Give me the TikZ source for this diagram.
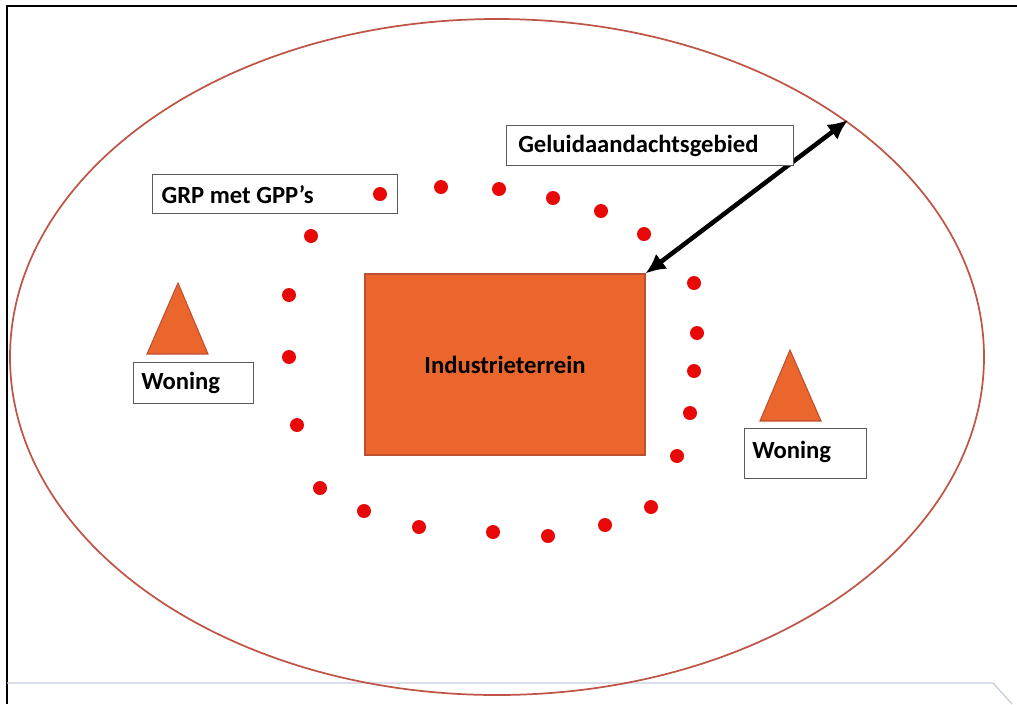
\documentclass[tikz,border=0pt]{standalone}
\usepackage{fontspec}
\setmainfont{Carlito}
\usetikzlibrary{arrows.meta}
\definecolor{ellc}{RGB}{190,85,70}
\definecolor{orangefill}{RGB}{234,102,45}
\definecolor{orangeedge}{RGB}{190,80,50}
\definecolor{dotred}{RGB}{232,8,8}
\definecolor{boxedge}{RGB}{90,90,90}
\definecolor{slidegray}{RGB}{200,206,222}
\tikzset{
  lblbox/.style={draw=boxedge, line width=1.1pt, fill=white, anchor=north west, inner sep=0pt},
  lbltext/.style={font=\bfseries\fontsize{18.5}{22}\selectfont, anchor=west, inner sep=0pt},
  dotp/.style={circle, fill=dotred, inner sep=0pt, minimum size=10.5pt},
  house/.style={draw=orangeedge, line width=0.8pt, fill=orangefill},
}
\begin{document}
\begin{tikzpicture}[x=0.75pt,y=-0.75pt]
\useasboundingbox (0,0) rectangle (1017,704);
% frame
\draw[line width=1.6pt, black] (7,704) -- (7,6) -- (1017,6);
\draw[slidegray, line width=1pt] (7,683) -- (993,683) -- (1012,704);
% ellipse
\draw[ellc, line width=1.3pt] (497,357) ellipse [x radius=487, y radius=338];
% industrial area
\node[draw=orangeedge, line width=0.8pt, fill=orangefill, minimum width=210pt, minimum height=135.75pt, inner sep=0pt, font=\bfseries\fontsize{18.5}{22}\selectfont] (ind) at (505,364.5) {Industrieterrein};
% arrow
\coordinate (edge) at (848,120);
\draw[line width=3.4pt, {Latex[length=15pt,width=14pt]}-{Latex[length=15pt,width=14pt]}] (ind.north east) -- (edge);
% labels
\node[lblbox, minimum width=215.25pt, minimum height=30pt] (geluid) at (506,125) {};
\node[lbltext] (geluidt) at ([xshift=9pt]geluid.west) {Geluidaandachtsgebied};
\node[lblbox, minimum width=183.75pt, minimum height=29.25pt] (grp) at (152,174) {};
\node[lbltext] (grpt) at ([xshift=7pt]grp.west) {GRP met GPP’s};
% houses
\draw[house] (178,283) -- (208,354) -- (147,354) -- cycle;
\node[lblbox, minimum width=90pt, minimum height=30.75pt] (won1) at (133,362) {};
\node[lbltext] (won1t) at ([xshift=6pt]won1.west) {Woning};
\draw[house] (790,350) -- (821,421) -- (760,421) -- cycle;
\node[lblbox, minimum width=91.5pt, minimum height=37.5pt] (won2) at (744,428) {};
\node[lbltext] (won2t) at ([xshift=6pt,yshift=1pt]won2.west) {Woning};
% dots
\foreach \x/\y [count=\i] in {380/194,441/187,499/189,553/198,601/211,644/234,311/236,694/283,289/295,697/333,289/357,694/371,690/413,297/425,677/456,320/488,651/507,364/511,605/525,419/527,493/532,548/536}
  \node[dotp] (d\i) at (\x,\y) {};
\end{tikzpicture}
\end{document}
